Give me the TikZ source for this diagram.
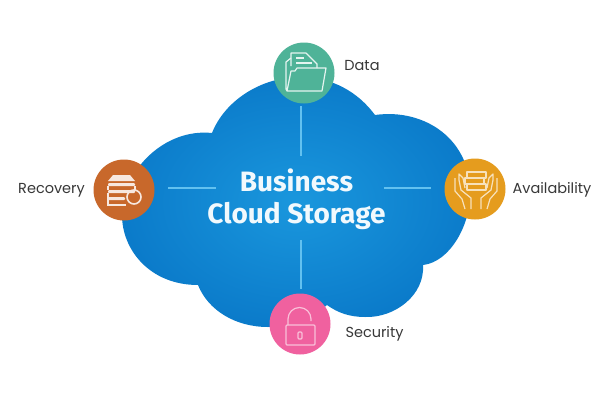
\documentclass[tikz,border=0pt]{standalone}
\usepackage{fontspec}
\setmainfont{Fira Sans}
\newfontfamily\lblfont{Poppins}
\definecolor{cloudin}{HTML}{1A97DD}
\definecolor{cloudout}{HTML}{0B7BCA}
\definecolor{linkblue}{HTML}{62C1F0}
\definecolor{dataC}{HTML}{4FB398}
\definecolor{recC}{HTML}{C8682B}
\definecolor{avC}{HTML}{E59C1E}
\definecolor{secC}{HTML}{F0619F}
\tikzset{
  badge/.style={circle,minimum size=61pt,inner sep=0pt,draw=none},
  lbl/.style={font=\lblfont\fontsize{14.5}{17}\selectfont,text=black!78,inner sep=0pt},
  title/.style={font=\bfseries\fontsize{28}{32}\selectfont,text=white!94!cloudin,inner sep=0pt,align=center},
  linkline/.style={draw=linkblue,line width=2pt},
  glyph/.style={line width=1.2pt,line join=round}
}
\begin{document}
\begin{tikzpicture}[x=1pt,y=-1pt]
\useasboundingbox (0,0) rectangle (610,407);
\fill[white] (0,0) rectangle (610,407);
% cloud
\shade[inner color=cloudin,outer color=cloudout]
  (212,133) .. controls (225,100) and (262,77) .. (300,77)
  .. controls (332,77) and (358,92) .. (375,115)
  .. controls (425,108) and (472,140) .. (470,195)
  .. controls (470,225) and (450,262) .. (423,265)
  .. controls (425,295) and (395,318) .. (365,317)
  .. controls (350,317) and (338,313) .. (327,305)
  .. controls (310,320) and (290,327) .. (268,327)
  .. controls (235,327) and (208,310) .. (198,285)
  .. controls (150,285) and (122,250) .. (122,215)
  .. controls (122,170) and (165,128) .. (212,133) -- cycle;
% title
\node[title] (t) at (296.5,199) {Business\\Cloud Storage};
% badges
\node[badge,fill=dataC] (d) at (304,73) {};
\node[badge,fill=recC] (r) at (124,190) {};
\node[badge,fill=avC] (a) at (475,189) {};
\node[badge,fill=secC] (s) at (300,324) {};
% link end points
\coordinate (dl) at (301,106);
\coordinate (dle) at (301,156);
\coordinate (rl) at (168,188);
\coordinate (rle) at (216,188);
\coordinate (al) at (384,188);
\coordinate (ale) at (431,188);
\coordinate (sl) at (301,240);
\coordinate (sle) at (301,289);
\draw[linkline] (dl) -- (dle);
\draw[linkline] (rl) -- (rle);
\draw[linkline] (al) -- (ale);
\draw[linkline] (sl) -- (sle);
% labels
\node[lbl] (dt) at (362,66) {Data};
\node[lbl] (rt) at (51.5,190) {Recovery};
\node[lbl] (at) at (552,190) {Availability};
\node[lbl] (st) at (374.5,334) {Security};
% folder icon
\begin{scope}[glyph,draw=white!85!dataC]
\draw (291,66) -- (291,53) -- (306,53) -- (317,64) -- (317,68);
\draw (296,58) -- (304,58) (296,63) -- (312,63);
\draw (291,58) -- (286,62) -- (286,89) -- (287,91) -- (322,91) -- (326,68) -- (297,68) -- (295,71) -- (291,71) -- (287,91);
\end{scope}
% recovery icon
\begin{scope}[glyph,draw=white!85!recC]
\fill[white!85!recC] (108,181) -- (113,175) -- (130,175) -- (135,181) -- cycle;
\fill[white!85!recC,rounded corners=1pt] (108,183) rectangle (135,186);
\fill[white!85!recC,rounded corners=1pt] (108,190) rectangle (135,193);
\draw (108,186) -- (108,190) (135,186) -- (135,190);
\fill[white!85!recC,rounded corners=1pt] (108,197) rectangle (125,200);
\fill[white!85!recC] (108,204) rectangle (126,206);
\draw (108,193) -- (108,206);
\draw[line width=1.6pt] (134,197) circle[radius=7];
\end{scope}
% availability icon
\begin{scope}[glyph,draw=white!70!avC]
\draw (467,172) rectangle (486,178);
\draw (465,178) rectangle (484,184);
\draw (467,184) rectangle (486,190);
\draw (471,209) -- (471,198) -- (461,190) -- (459,180) -- (459,174) -- (463,178) -- (465,188);
\draw (465,209) -- (462,199) -- (455,191) -- (455,178);
\draw (481,209) -- (481,198) -- (491,190) -- (493,180) -- (493,174) -- (489,178) -- (487,188);
\draw (487,209) -- (490,199) -- (497,191) -- (497,178);
\end{scope}
% lock icon
\begin{scope}[glyph,draw=white!60!secC]
\draw[rounded corners=1pt] (286,325) rectangle (315,345);
\draw (288,325) -- (288,319) arc[start angle=180,end angle=360,radius=11.5] -- (311,321);
\draw[rounded corners=1pt] (298,332) rectangle (302,339);
\end{scope}
\end{tikzpicture}
\end{document}
